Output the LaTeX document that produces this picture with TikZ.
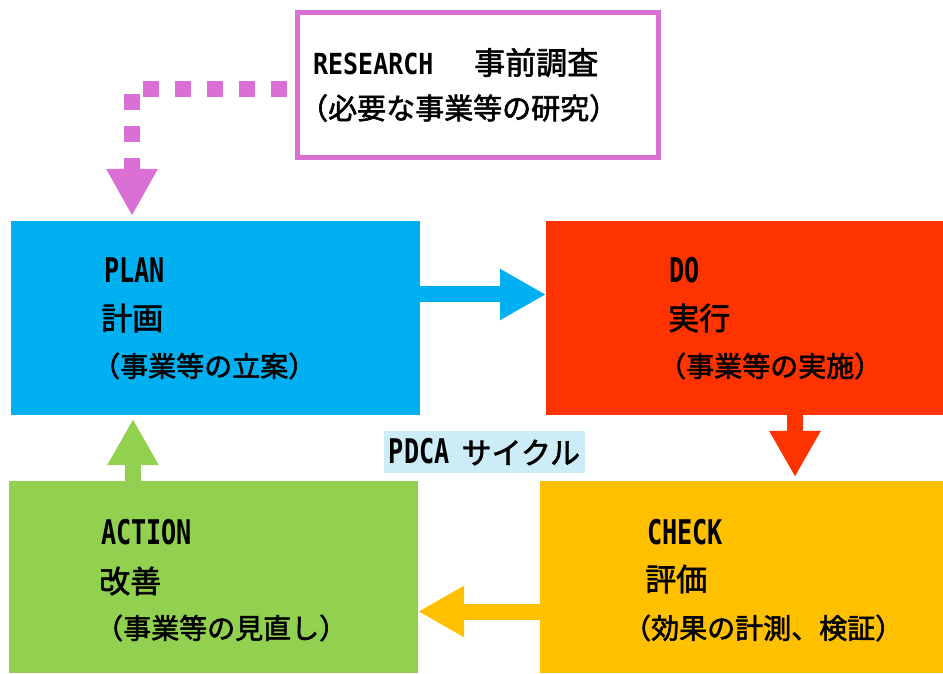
\documentclass[tikz,border=0pt]{standalone}
\usepackage{fontspec}
\setmainfont{Noto Sans CJK JP}[FakeBold=2]
\newfontfamily\latn[FakeStretch=0.74]{DejaVu Sans Mono}
\newfontfamily\latw[FakeStretch=0.86]{DejaVu Sans Mono}
\usetikzlibrary{arrows.meta}
\definecolor{planblue}{RGB}{0,176,240}
\definecolor{dored}{RGB}{255,51,0}
\definecolor{checkorange}{RGB}{255,192,0}
\definecolor{actgreen}{RGB}{146,208,80}
\definecolor{resmag}{RGB}{218,112,214}
\definecolor{cyclebg}{RGB}{204,236,248}
\newcommand\enbig{\latn\bfseries\fontsize{34}{40}\selectfont}
\newcommand\jabig{\fontsize{31}{36}\selectfont}
\newcommand\jasmall{\fontsize{28}{32}\selectfont}
\begin{document}
\begin{tikzpicture}[x=1pt,y=1pt,
  box/.style={inner sep=0pt,outer sep=0pt},
  txt/.style={anchor=west,inner sep=0pt},
  blockarrow/.style={line width=16pt,-{Triangle[width=48pt,length=46pt]}},
  dotline/.style={draw=resmag,line width=16pt,dash pattern=on 16pt off 16pt,
    -{Triangle[width=48pt,length=47pt]}}]
  \useasboundingbox (0,0) rectangle (943,673);
  % the four boxes of the cycle
  \node[box,fill=planblue,minimum width=409pt,minimum height=194pt] (plan) at (215.5,355) {};
  \node[box,fill=dored,minimum width=397pt,minimum height=194pt] (do) at (744.5,355) {};
  \node[box,fill=checkorange,minimum width=403pt,minimum height=192pt] (check) at (741.5,96) {};
  \node[box,fill=actgreen,minimum width=409pt,minimum height=192pt] (act) at (213.5,96) {};
  \node[box,draw=resmag,line width=5pt,fill=white,minimum width=361pt,minimum height=145pt] (research) at (478,588) {};
  % texts
  \node[txt] (research-t1) at (313,610.5) {{\latw\bfseries\fontsize{29}{34}\selectfont RESEARCH}\fontsize{31}{36}\selectfont\hspace{10pt}　事前調査};
  \node[txt,font=\fontsize{29}{34}\selectfont] (research-t2) at (299,565) {（必要な事業等の研究）};
  \node[txt,font=\enbig] (plan-t1) at (104,403) {PLAN};
  \node[txt,font=\jabig] (plan-t2) at (101,355) {計画};
  \node[txt,font=\jasmall] (plan-t3) at (92,307) {（事業等の立案）};
  \node[txt,font=\enbig] (do-t1) at (669,403) {DO};
  \node[txt,font=\jabig] (do-t2) at (668,355) {実行};
  \node[txt,font=\jasmall] (do-t3) at (658,307) {（事業等の実施）};
  \node[txt,font=\enbig] (check-t1) at (647,141) {CHECK};
  \node[txt,font=\jabig] (check-t2) at (645,94) {評価};
  \node[txt,font=\jasmall] (check-t3) at (623,45) {（効果の計測、検証）};
  \node[txt,font=\enbig] (act-t1) at (101,140.5) {ACTION};
  \node[txt,font=\jabig] (act-t2) at (99,92) {改善};
  \node[txt,font=\jasmall] (act-t3) at (95,45) {（事業等の見直し）};
  \node[box,fill=cyclebg,minimum width=201pt,minimum height=42pt] (pdca) at (484.5,221)
    {{\enbig PDCA}\hspace{12pt}\fontsize{30}{34}\selectfont サイクル};
  % arrows
  \draw[dotline,shorten >=5pt] ([xshift=-10.5pt,yshift=-4pt]research.west) -| ([xshift=-83.5pt]plan.north);
  \draw[blockarrow,planblue] ([yshift=23.5pt]plan.east) -- ([yshift=23.5pt]do.west);
  \draw[blockarrow,dored,shorten >=4pt] ([xshift=50.5pt]do.south) -- ([xshift=53.5pt]check.north);
  \draw[blockarrow,checkorange] ([yshift=-34.5pt]check.west) -- ([yshift=-34.5pt]act.east);
  \draw[blockarrow,actgreen,shorten >=4pt] ([xshift=-80.5pt]act.north) -- ([xshift=-82.5pt]plan.south);
\end{tikzpicture}
\end{document}
